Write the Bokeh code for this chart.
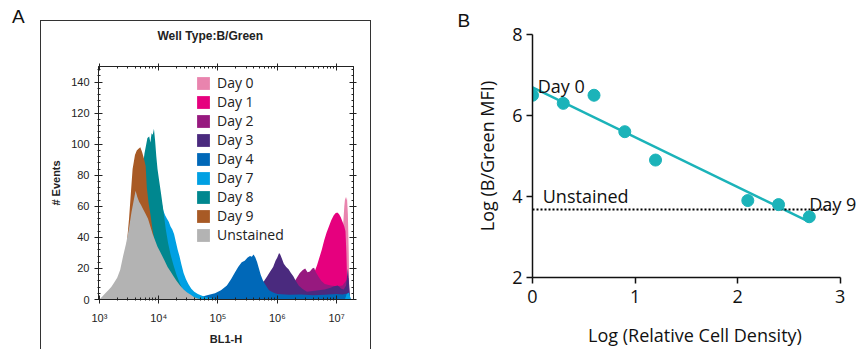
import numpy as np
from bokeh.plotting import figure
from bokeh.models import (Range1d, FixedTicker, SingleIntervalTicker, LinearAxis, LogAxis,
                          Legend, LegendItem, Label, CustomJSTickFormatter, Div)
from bokeh.layouts import row, column
from bokeh.embed import file_html
from bokeh.resources import INLINE

# ---------------- Panel A data: flow histograms (log10 BL1-H vs # events) ----------------
series_names = ["Day 0", "Day 1", "Day 2", "Day 3", "Day 4", "Day 7", "Day 8", "Day 9", "Unstained"]
series_colors = ["#E984AE", "#E6007E", "#97197F", "#4A2A7E", "#0068B8", "#00A0E3", "#00878F", "#A85A25", "#B3B3B3"]

day0_lx = [6.85, 6.95, 7.03, 7.08, 7.11, 7.13, 7.145, 7.16, 7.175, 7.19, 7.205, 7.215]
day0_ct = [2, 8, 20, 35, 48, 60, 66, 64, 66, 55, 30, 0]

day1_lx = [6.40, 6.50, 6.58, 6.63, 6.67, 6.71, 6.75, 6.79, 6.83, 6.87, 6.91, 6.95, 6.98, 7.01, 7.04, 7.07, 7.10, 7.13, 7.15, 7.165, 7.18, 7.20]
day1_ct = [3, 8, 14, 18, 22, 27, 32, 38, 43, 47, 51, 54, 55.5, 56, 55, 53, 50, 47, 44, 30, 8, 0]

day2_lx = [6.00, 6.10, 6.20, 6.28, 6.33, 6.38, 6.43, 6.47, 6.51, 6.55, 6.59, 6.62, 6.65, 6.69, 6.74, 6.80, 6.90, 7.00, 7.10, 7.16, 7.20, 7.22]
day2_ct = [0, 3, 7, 11, 14, 17, 19, 20, 17.5, 18, 20, 20.5, 17.5, 15, 12, 10, 9, 8.5, 9, 12, 14, 0]

day3_lx = [5.40, 5.55, 5.70, 5.78, 5.83, 5.88, 5.93, 5.97, 6.00, 6.03, 6.05, 6.08, 6.11, 6.15, 6.19, 6.23, 6.27, 6.31, 6.36, 6.42, 6.50, 6.60, 6.70, 6.80, 6.90, 6.96, 7.02, 7.08, 7.12, 7.16, 7.19, 7.21, 7.23]
day3_ct = [0, 4, 9, 12, 15, 18, 21, 25, 27, 30, 29, 26, 23, 21, 19.5, 17, 15, 12, 9, 7, 5, 5.5, 6, 6.5, 7.5, 8.5, 9, 7, 6.5, 9, 20, 10, 0]

day4_lx = [4.50, 4.65, 4.80, 4.95, 5.05, 5.15, 5.22, 5.28, 5.34, 5.40, 5.45, 5.50, 5.54, 5.57, 5.60, 5.63, 5.66, 5.69, 5.72, 5.76, 5.80, 5.86, 5.93, 6.00, 6.20, 6.40, 6.60, 6.80, 7.00, 7.10, 7.18, 7.22, 7.24]
day4_ct = [0, 1, 2.5, 4, 6, 9, 13, 17, 21, 24, 25, 27, 28, 27.5, 29, 27, 24, 20, 16, 12, 9.5, 6, 4.5, 3.5, 3, 3.2, 2.8, 3, 3.5, 3.2, 3.8, 2, 0]

day7_lx = [3.50, 3.65, 3.80, 3.90, 3.98, 4.04, 4.08, 4.11, 4.14, 4.17, 4.20, 4.23, 4.26, 4.29, 4.32, 4.35, 4.38, 4.42, 4.46, 4.50, 4.55, 4.60, 4.66, 4.72, 4.80, 4.90, 5.00, 7.14, 7.17, 7.21, 7.24]
day7_ct = [3, 25, 60, 80, 78, 64, 57, 54, 52, 50, 47, 45, 42, 37, 32, 28, 23, 17, 13, 10, 7, 5, 3.5, 2.5, 1.5, 0.8, 0, 0, 3.5, 4.5, 0]

day8_lx = [3.40, 3.50, 3.60, 3.66, 3.72, 3.76, 3.79, 3.81, 3.84, 3.86, 3.88, 3.90, 3.92, 3.94, 3.96, 3.98, 4.01, 4.04, 4.08, 4.12, 4.16, 4.20, 4.25, 4.30, 4.35, 4.40, 4.46, 4.52, 4.60, 4.70]
day8_ct = [2, 12, 35, 60, 82, 94, 100, 104, 105, 101, 107, 106, 110, 102, 92, 84, 76, 68, 57, 45, 36, 29, 22, 16, 11, 7, 4.5, 3, 1.5, 0]

day9_lx = [3.20, 3.30, 3.40, 3.46, 3.50, 3.53, 3.56, 3.60, 3.63, 3.66, 3.69, 3.72, 3.75, 3.78, 3.80, 3.83, 3.86, 3.90, 3.95, 4.00, 4.08, 4.18, 4.30, 4.45, 4.60]
day9_ct = [3, 8, 20, 35, 52, 68, 84, 93, 96, 97, 98, 95, 91, 86, 72, 62, 55, 44, 34, 27, 20, 13, 7, 2, 0]

unst_lx = [3.00, 3.05, 3.10, 3.15, 3.20, 3.25, 3.30, 3.35, 3.40, 3.45, 3.50, 3.54, 3.58, 3.61, 3.64, 3.67, 3.70, 3.74, 3.78, 3.82, 3.86, 3.90, 3.94, 3.98, 4.02, 4.06, 4.10, 4.15, 4.20, 4.25, 4.30, 4.36, 4.42, 4.48, 4.54, 4.60, 4.66, 4.72]
unst_ct = [0, 2, 4, 6, 8, 11, 14, 19, 28, 36, 46, 56, 64, 70, 66, 63, 61, 58, 55, 52, 47, 42, 38, 34, 31, 28, 25, 21, 18, 15, 12, 9, 6.5, 4.5, 3, 1.5, 0.7, 0]

hist_lx = [day0_lx, day1_lx, day2_lx, day3_lx, day4_lx, day7_lx, day8_lx, day9_lx, unst_lx]
hist_ct = [day0_ct, day1_ct, day2_ct, day3_ct, day4_ct, day7_ct, day8_ct, day9_ct, unst_ct]

decades = [3, 4, 5, 6, 7]

# ---------------- Panel B data ----------------
log_density = [0.0, 0.3, 0.6, 0.9, 1.2, 2.1, 2.4, 2.7]
log_mfi = [6.5, 6.3, 6.5, 5.6, 4.9, 3.9, 3.8, 3.5]
unstained_level = 3.68
unstained_extent = [0.0, 2.96]
x_ticks_b = [0, 1, 2, 3]
y_ticks_b = [2, 4, 6, 8]

ARIAL = "Liberation Sans"
GEO = "Open Sans"
TEAL = "#1BB3B9"
INK = "#111111"

# ======================= Panel A =======================
pa = figure(width=331, height=329, output_backend="svg", toolbar_location=None,
            x_axis_type="log", x_range=Range1d(10 ** 2.985, 10 ** 7.285), y_range=Range1d(0, 150),
            min_border_left=57, min_border_right=19, min_border_top=43, min_border_bottom=51,
            margin=(20, 0, 0, 0),
            styles={"border-left": "1px solid #333333", "border-top": "1px solid #333333",
                    "border-right": "1px solid #333333"})
pa.grid.visible = False
pa.outline_line_color = "#222222"

pa.title.text = "Well Type:B/Green"
pa.title.align = "left"
pa.title.offset = 59
pa.title.text_font = ARIAL
pa.title.text_font_size = "12px"
pa.title.text_font_style = "bold"
pa.title.text_color = "#222222"

renderers = []
for lx, ct, col in zip(hist_lx, hist_ct, series_colors):
    xs = [10 ** v for v in lx]
    r = pa.varea(x=xs, y1=[0] * len(xs), y2=ct, fill_color=col, fill_alpha=1.0)
    renderers.append(r)

minor_log = [m * 10 ** d for d in range(2, 8) for m in range(2, 10)]
major_log = [10 ** d for d in decades]

sup_code = """
const s = {'0':'\u2070','1':'\u00b9','2':'\u00b2','3':'\u00b3','4':'\u2074','5':'\u2075','6':'\u2076','7':'\u2077','8':'\u2078','9':'\u2079','-':'\u207b'};
const e = Math.round(Math.log10(tick));
return '10' + String(e).split('').map(c => s[c]).join('');
"""

xa = pa.xaxis[0]
xa.ticker = FixedTicker(ticks=major_log, minor_ticks=minor_log)
xa.formatter = CustomJSTickFormatter(code=sup_code)
ya = pa.yaxis[0]
ya.ticker = SingleIntervalTicker(interval=20, num_minor_ticks=5)

top_ax = LogAxis(ticker=FixedTicker(ticks=major_log, minor_ticks=minor_log),
                 formatter=CustomJSTickFormatter(code="return ''"))
right_ax = LinearAxis(ticker=SingleIntervalTicker(interval=20, num_minor_ticks=5),
                      formatter=CustomJSTickFormatter(code="return ''"))
pa.add_layout(top_ax, "above")
pa.add_layout(right_ax, "right")

for ax in [xa, ya]:
    ax.major_tick_in = 4
    ax.major_tick_out = 4
    ax.minor_tick_in = 2
    ax.minor_tick_out = 1
    ax.axis_line_color = "#222222"
    ax.major_tick_line_color = "#222222"
    ax.minor_tick_line_color = "#222222"
    ax.major_label_text_font = ARIAL
    ax.major_label_text_font_size = "11px"
    ax.major_label_text_color = "#222222"
    ax.axis_label_text_font = ARIAL
    ax.axis_label_text_font_size = "11px"
    ax.axis_label_text_font_style = "bold"
    ax.axis_label_text_color = "#222222"
for ax in [top_ax, right_ax]:
    ax.major_tick_in = 4
    ax.major_tick_out = 3
    ax.minor_tick_in = 2
    ax.minor_tick_out = 0
    ax.axis_line_color = "#222222"
    ax.major_tick_line_color = "#222222"
    ax.minor_tick_line_color = "#222222"
    ax.major_label_standoff = 0
# blank spacer label lifts the panel title above the top tick row
top_ax.axis_label = " "
top_ax.axis_label_text_font_size = "9px"
top_ax.axis_label_standoff = 3

xa.axis_label = "BL1-H"
xa.major_label_standoff = 8
xa.axis_label_standoff = 6
ya.axis_label = "# Events"
ya.major_label_standoff = 5
ya.axis_label_standoff = 6

legend = Legend(items=[LegendItem(label=n, renderers=[r]) for n, r in zip(series_names, renderers)],
                location=(97, 55), glyph_width=16, glyph_height=16, label_height=19, label_width=60,
                spacing=0, padding=0, margin=0, label_standoff=6,
                background_fill_alpha=0, border_line_color=None,
                label_text_font=GEO, label_text_font_size="14px", label_text_color="#222222")
pa.add_layout(legend)

letter_a = Div(text="A", width=28, height=30, margin=(7, 0, 0, 12),
               styles={"font-size": "19px", "font-family": ARIAL, "color": INK, "line-height": "1"})

# ======================= Panel B =======================
pb = figure(width=486, height=350, output_backend="svg", toolbar_location=None,
            x_range=Range1d(0, 3.17), y_range=Range1d(2, 8),
            min_border_left=161, min_border_right=0, min_border_top=34, min_border_bottom=73)
pb.grid.visible = False
pb.outline_line_color = None

pb.title.text = "B"
pb.title.align = "left"
pb.title.offset = -75
pb.title.standoff = 8
pb.title.text_font = ARIAL
pb.title.text_font_size = "19px"
pb.title.text_font_style = "normal"
pb.title.text_color = INK

slope, intercept = np.polyfit(log_density, log_mfi, 1)
fit_x = [min(log_density), max(log_density)]
fit_y = [intercept + slope * v for v in fit_x]
pb.line(fit_x, fit_y, line_color=TEAL, line_width=2.5)
pb.line(unstained_extent, [unstained_level, unstained_level], line_color="black", line_width=2, line_dash="2 2")
pb.scatter(log_density, log_mfi, size=12, fill_color=TEAL, line_color=TEAL)

pb.xaxis.ticker = FixedTicker(ticks=x_ticks_b)
pb.yaxis.ticker = FixedTicker(ticks=y_ticks_b)
pb.xaxis.bounds = (0, 3)
pb.xaxis.axis_label = "Log (Relative Cell Density)"
pb.yaxis.axis_label = "Log (B/Green MFI)"
for ax in [pb.xaxis[0], pb.yaxis[0]]:
    ax.major_tick_in = 0
    ax.major_tick_out = 6
    ax.minor_tick_in = 0
    ax.minor_tick_out = 0
    ax.axis_line_width = 1.5
    ax.major_tick_line_width = 1.5
    ax.axis_line_color = INK
    ax.major_tick_line_color = INK
    ax.major_label_text_font = GEO
    ax.major_label_text_font_size = "18px"
    ax.major_label_text_color = INK
    ax.axis_label_text_font = GEO
    ax.axis_label_text_font_size = "18px"
    ax.axis_label_text_font_style = "normal"
    ax.axis_label_text_color = INK
pb.xaxis.major_label_standoff = 6
pb.xaxis.axis_label_standoff = 17
pb.yaxis.major_label_standoff = 4
pb.yaxis.axis_label_standoff = 10

for txt, tx, ty in [("Day 0", 0.05, 6.74), ("Unstained", 0.10, 4.02), ("Day 9", 2.70, 3.82)]:
    pb.add_layout(Label(x=tx, y=ty, text=txt, text_font=GEO, text_font_size="18px",
                        text_baseline="alphabetic", text_align="left", text_color=INK))

layout = row(letter_a, column(pa), column(pb))
open("out.html", "w").write(file_html(layout, INLINE))
